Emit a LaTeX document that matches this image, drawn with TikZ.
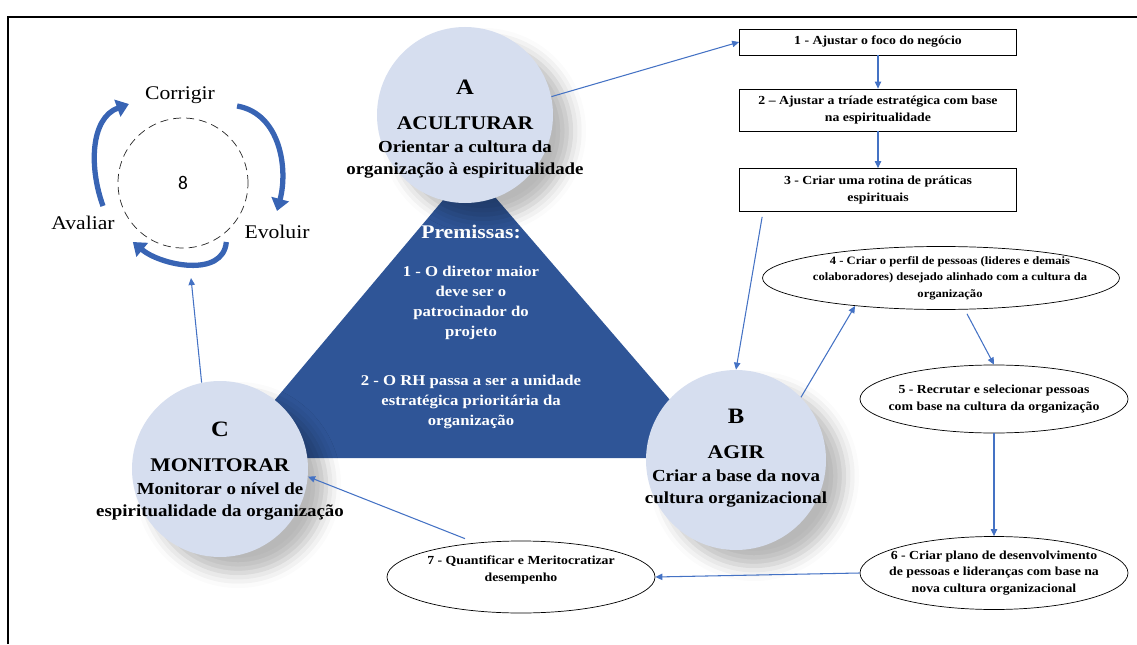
\documentclass[tikz,border=0pt]{standalone}
\usepackage{fontspec}
\setmainfont[FakeStretch=1.12]{Liberation Serif}
\newfontfamily\digitfont{Carlito}
\usetikzlibrary{arrows.meta,positioning,calc,shapes.geometric,shadows.blur}
\definecolor{triBlue}{HTML}{2F5597}
\definecolor{stageFill}{HTML}{D6DEEF}
\definecolor{flowBlue}{HTML}{4472C4}
\definecolor{loopBlue}{HTML}{3864B4}

\begin{document}
\begin{tikzpicture}[x=0.2mm,y=0.2mm,>={Triangle[length=4pt,width=3.6pt]},
    stage/.style={circle,fill=stageFill,inner sep=0pt,
      blur shadow={shadow xshift=3.6mm,shadow yshift=-3.2mm,shadow blur radius=3mm,shadow opacity=28}},
    stagetext/.style={align=center,font=\bfseries\fontsize{9.6}{12.8}\selectfont},
    stepbox/.style={draw,thin,fill=white,minimum width=55.4mm,align=center,inner sep=1pt,
      font=\bfseries\fontsize{7}{9.6}\selectfont},
    actbubble/.style={draw,thin,ellipse,fill=white,inner sep=0pt},
    bubbletext/.style={align=center,font=\bfseries\fontsize{7}{9.4}\selectfont},
    looplabel/.style={font=\fontsize{11}{13}\selectfont},
    flow/.style={->,flowBlue,line width=0.6pt},
    loopar/.style={-{Triangle[length=7pt,width=10pt]},loopBlue,line width=3pt}]
  \useasboundingbox (0,0) rectangle (1137,644);
  % frame
  \draw[line width=1.7pt] (8,0) -- (8,627) -- (1137,627);

  % premissas
  \fill[triBlue] (470,476) -- (226,186) -- (720,186) -- cycle;
  \node[align=center,text=white,font=\bfseries\fontsize{8.5}{11.4}\selectfont] (prem) at (471,317)
    {{\fontsize{11}{12}\selectfont Premissas:}\\[3.6mm]
     1 - O diretor maior\\deve ser o\\patrocinador do\\projeto\\[5.8mm]
     2 - O RH passa a ser a unidade\\estratégica prioritária da\\organização};

  % stages
  \node[stage,minimum size=35.2mm] (ca) at (465,529) {};
  \node[stage,minimum size=36mm] (cb) at (736,184) {};
  \node[stage,minimum size=35.2mm] (cc) at (220,175) {};
  \node[stagetext] (ta) at (465,515)
    {{\fontsize{12.5}{14}\selectfont A}\\[2.6mm]{\fontsize{11}{13}\selectfont ACULTURAR}\\
     Orientar a cultura da\\organização à espiritualidade};
  \node[stagetext] (tb) at (736,186)
    {{\fontsize{12.5}{14}\selectfont B}\\[2.6mm]{\fontsize{11}{13}\selectfont AGIR}\\
     Criar a base da nova\\cultura organizacional};
  \node[stagetext] (tc) at (220,173)
    {{\fontsize{12.5}{14}\selectfont C}\\[2.6mm]{\fontsize{11}{13}\selectfont MONITORAR}\\
     Monitorar o nível de\\espiritualidade da organização};

  % steps
  \node[stepbox,minimum height=5.2mm] (b1) at (878,602) {1 - Ajustar o foco do negócio};
  \node[stepbox,minimum height=8.4mm] (b2) at (878,534) {2 – Ajustar a tríade estratégica com base\\na espiritualidade};
  \node[stepbox,minimum height=8.6mm] (b3) at (878,454) {3 - Criar uma rotina de práticas\\espirituais};

  \node[actbubble,minimum width=71.4mm,minimum height=12.6mm] (e4) at (941,366) {};
  \node[bubbletext,font=\bfseries\fontsize{6.4}{9.4}\selectfont] (t4) at (950,366) {4 - Criar o perfil de pessoas (lideres e demais\\colaboradores) desejado alinhado com a cultura da\\organização};
  \node[actbubble,minimum width=53.6mm,minimum height=13.6mm] (e5) at (994,245) {};
  \node[bubbletext] (t5) at (994,245) {5 - Recrutar e selecionar pessoas\\com base na cultura da organização};
  \node[actbubble,minimum width=53.6mm,minimum height=14.6mm] (e6) at (994,71) {};
  \node[bubbletext] (t6) at (994,71) {6 - Criar plano de desenvolvimento\\de pessoas e lideranças com base na\\nova cultura organizacional};
  \node[actbubble,minimum width=53.6mm,minimum height=14.4mm] (e7) at (521,67) {};
  \node[bubbletext] (t7) at (521,74) {7 - Quantificar e Meritocratizar\\desempenho};

  % cycle
  \node[draw=black!85,dashed,dash pattern=on 1.6mm off 1mm,circle,minimum size=26mm,
        font=\digitfont\fontsize{11}{13}\selectfont] (loop) at (183,461) {8};
  \node[looplabel] (corrigir) at (180,549) {Corrigir};
  \node[looplabel] (avaliar) at (83,421) {Avaliar};
  \node[looplabel] (evoluir) at (277,412) {Evoluir};
  \coordinate (loopfoot) at (191,366);
  \draw[loopar] ($(avaliar.north)+(20,4)$) to[out=110,in=200] ($(corrigir.west)+(-10,-9)$);
  \draw[loopar] ($(corrigir.east)+(16,-11)$) to[out=-10,in=75] ($(evoluir.north)+(0,8)$);
  \draw[loopar] ($(evoluir.west)+(-12,-10)$) to[out=-95,in=-40] ($(avaliar.east)+(12,-19)$);

  % connectors
  \draw[flow] (ca.12) -- (b1.west);
  \draw[flow] (b1) -- (b2);
  \draw[flow] (b2) -- (b3);
  \draw[flow] ($(b3.south west)+(23,-5)$) -- (cb.north);
  \draw[flow] (cb.44) -- (e4.198);
  \draw[flow] ($(e4.south)+(26,-4)$) -- (e5.north);
  \draw[flow] (e5) -- (e6);
  \draw[flow] (e6.west) -- (e7.east);
  \draw[flow] ($(e7.north)+(-56,2)$) -- (cc.-5);
  \draw[flow] (cc.102) -- (loopfoot);
\end{tikzpicture}
\end{document}
